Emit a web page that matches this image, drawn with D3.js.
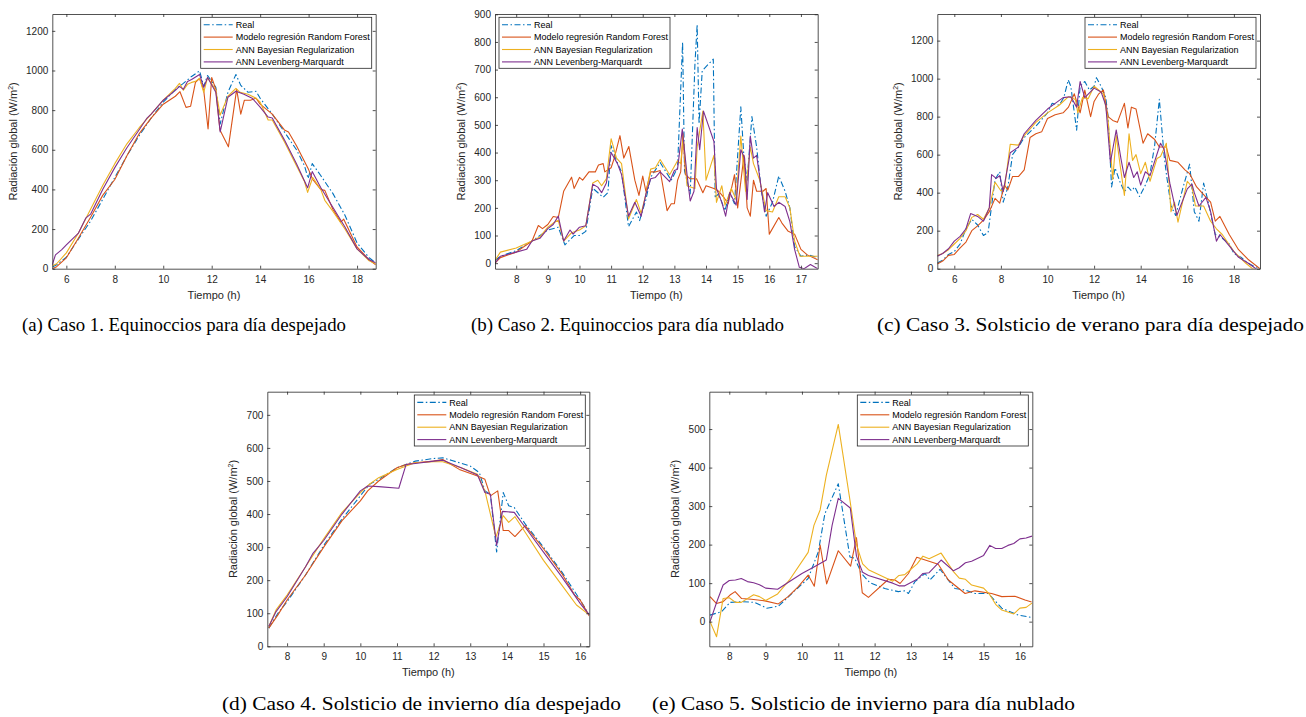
<!DOCTYPE html>
<html>
<head>
<meta charset="utf-8">
<script src="https://cdn.jsdelivr.net/npm/d3@7"></script>
<style>
  body { margin: 0; background: #fff; }
  svg text { font-family: "Liberation Sans", Arial, sans-serif; }
</style>
</head>
<body>
<div id="fig"></div>
<script>
const width = 1306;
const height = 717;

const seriesNames = ["Real", "Modelo regresión Random Forest", "ANN Bayesian Regularization", "ANN Levenberg-Marquardt"];
const seriesColors = ["#0072BD", "#D95319", "#EDB120", "#7E2F8E"];

const captions = [
  "(a)  Caso 1. Equinoccios para día despejado",
  "(b)  Caso 2. Equinoccios para día nublado",
  "(c)  Caso 3. Solsticio de verano para día despejado",
  "(d)  Caso 4. Solsticio de invierno día despejado",
  "(e)  Caso 5. Solsticio de invierno para día nublado"
];

// Caso 1 — [hora, W/m2]
const a_real = [[5.42,8],[5.6,20],[6,58],[6.5,150],[7,240],[7.5,350],[8,460],[8.5,570],[9,670],[9.5,760],[10,840],[10.5,905],[10.67,920],[10.83,935],[11.17,970],[11.5,998],[11.67,920],[11.83,975],[12.17,915],[12.35,730],[12.67,890],[13,980],[13.2,925],[13.5,890],[13.83,895],[14,860],[14.5,780],[15,690],[15.5,600],[15.83,520],[15.98,455],[16.15,530],[16.5,470],[17,380],[17.5,270],[18,130],[18.5,55],[18.77,30]];
const a_rf = [[5.42,0],[5.6,10],[6,55],[6.5,155],[7,260],[7.5,370],[8,450],[8.5,570],[9,680],[9.5,760],[10,830],[10.5,870],[10.69,893],[10.94,814],[11.13,820],[11.33,940],[11.5,960],[11.67,900],[11.85,705],[12,965],[12.17,905],[12.34,700],[12.69,615],[13.03,905],[13.2,780],[13.35,850],[13.6,850],[13.83,860],[14,830],[14.5,780],[15,700],[15.17,690],[15.5,620],[16,500],[16.17,450],[16.5,400],[16.67,395],[17,300],[17.33,235],[17.45,250],[18,110],[18.5,45],[18.77,20]];
const a_br = [[5.42,15],[5.6,25],[6,80],[6.5,180],[7,300],[7.5,420],[8,530],[8.5,630],[9,710],[9.5,780],[10,850],[10.5,910],[10.67,935],[10.83,900],[11,930],[11.17,940],[11.33,945],[11.5,960],[11.67,890],[11.83,965],[12.17,900],[12.35,775],[12.67,870],[13,910],[13.17,890],[13.5,880],[13.83,860],[14,840],[14.33,750],[14.5,750],[15,640],[15.5,520],[15.83,440],[15.96,385],[16.17,460],[16.5,400],[16.67,345],[17,290],[17.5,200],[18,100],[18.5,40],[18.77,25]];
const a_lm = [[5.42,20],[5.55,70],[5.8,95],[6,120],[6.5,180],[6.8,255],[7,275],[7.5,400],[8,510],[8.5,610],[9,700],[9.33,760],[9.5,780],[10,850],[10.5,900],[10.67,920],[10.83,905],[11,945],[11.17,955],[11.5,980],[11.67,915],[11.83,965],[12.17,890],[12.35,690],[12.67,865],[13,895],[13.33,880],[13.67,860],[14,815],[14.33,765],[14.5,760],[15,650],[15.5,530],[15.96,408],[16.15,490],[16.5,410],[17,310],[17.5,210],[18,100],[18.5,45],[18.77,30]];

// Caso 2
const b_real = [[7.33,10],[7.5,25],[8,45],[8.5,80],[9,120],[9.33,130],[9.54,66],[9.83,100],[10,100],[10.2,115],[10.42,271],[10.75,238],[10.9,255],[11,425],[11.17,370],[11.33,330],[11.55,132],[11.8,185],[11.9,154],[12.1,230],[12.25,310],[12.55,364],[12.9,300],[13.1,345],[13.26,799],[13.32,335],[13.5,250],[13.65,720],[13.72,863],[13.78,504],[13.88,696],[14.23,738],[14.29,240],[14.4,250],[14.6,190],[14.75,255],[14.9,215],[15.1,565],[15.2,380],[15.3,300],[15.45,530],[15.6,420],[15.75,260],[15.9,170],[16.1,220],[16.3,315],[16.5,260],[16.65,200],[16.8,60],[17,25],[17.25,30],[17.53,20]];
const b_rf = [[7.33,0],[7.5,20],[8,40],[8.5,80],[8.7,136],[8.83,125],[9,140],[9.17,169],[9.33,165],[9.5,260],[9.75,311],[9.83,270],[10,310],[10.1,300],[10.3,330],[10.5,330],[10.6,355],[10.75,360],[10.8,330],[11,345],[11.1,380],[11.28,461],[11.4,380],[11.56,422],[11.75,300],[11.88,245],[12,315],[12.1,260],[12.25,330],[12.4,330],[12.55,335],[12.77,190],[12.9,215],[13,215],[13.1,300],[13.2,330],[13.27,470],[13.35,320],[13.5,305],[13.7,305],[13.8,280],[13.9,255],[14,280],[14.25,270],[14.4,260],[14.55,240],[14.7,215],[14.9,320],[15,200],[15.2,390],[15.3,200],[15.4,170],[15.5,300],[15.6,260],[15.8,260],[15.9,270],[16,105],[16.3,165],[16.4,145],[16.6,115],[16.8,105],[17,50],[17.2,30],[17.53,12]];
const b_br = [[7.33,10],[7.5,40],[8,55],[8.5,80],[8.75,95],[9,130],[9.17,145],[9.33,155],[9.5,80],[9.75,110],[10,120],[10.2,135],[10.42,290],[10.58,300],[10.7,280],[10.85,305],[11,450],[11.17,380],[11.33,360],[11.55,160],[11.8,230],[11.95,180],[12.1,250],[12.25,340],[12.4,345],[12.55,375],[12.85,320],[13.1,370],[13.2,360],[13.28,460],[13.4,280],[13.65,270],[13.72,420],[13.9,550],[14,300],[14.25,390],[14.33,220],[14.5,280],[14.6,210],[14.8,270],[14.95,230],[15.1,460],[15.25,260],[15.4,420],[15.5,360],[15.7,300],[15.9,190],[16.1,185],[16.3,240],[16.5,240],[16.65,200],[16.8,80],[16.97,25],[17.2,25],[17.53,25]];
const b_lm = [[7.33,0],[7.5,25],[8,40],[8.33,50],[8.5,80],[8.75,90],[9,125],[9.17,140],[9.33,170],[9.5,80],[9.7,120],[9.8,105],[10,130],[10.2,135],[10.42,285],[10.58,275],[10.7,255],[10.85,290],[11,400],[11.2,360],[11.33,320],[11.55,170],[11.75,220],[11.95,170],[12.1,250],[12.25,305],[12.4,310],[12.55,330],[12.85,295],[13,335],[13.1,340],[13.25,485],[13.4,320],[13.5,225],[13.62,260],[13.72,490],[13.8,410],[13.92,550],[14.25,440],[14.33,270],[14.5,220],[14.62,170],[14.75,255],[14.95,210],[15.1,410],[15.22,380],[15.3,230],[15.4,460],[15.5,380],[15.6,390],[15.85,185],[15.95,255],[16.15,205],[16.3,220],[16.5,205],[16.65,150],[16.8,50],[16.95,-15],[17.1,-20],[17.3,-5],[17.53,-20]];

// Caso 3
const c_real = [[5.27,30],[5.5,45],[5.75,75],[6,90],[6.25,130],[6.5,210],[6.75,260],[7,230],[7.25,175],[7.45,190],[7.6,330],[7.75,470],[7.95,510],[8.1,350],[8.3,430],[8.5,600],[8.75,640],[9,690],[9.5,750],[10,820],[10.2,870],[10.5,860],[10.7,900],[10.89,993],[11,960],[11.25,729],[11.4,960],[11.6,985],[11.8,940],[12,960],[12.1,1005],[12.3,960],[12.5,900],[12.6,800],[12.75,430],[12.9,530],[13.1,460],[13.3,405],[13.45,430],[13.6,410],[13.75,430],[13.95,380],[14.2,440],[14.4,500],[14.6,650],[14.8,891],[15,600],[15.1,500],[15.3,330],[15.5,280],[15.8,420],[16.1,550],[16.3,300],[16.5,250],[16.7,450],[16.9,350],[17.2,180],[17.5,160],[17.8,130],[18,80],[18.3,60],[18.6,30],[18.9,10],[19.12,5]];
const c_rf = [[5.27,25],[5.5,40],[5.75,70],[6,75],[6.25,110],[6.5,140],[6.75,200],[7,225],[7.25,255],[7.5,300],[7.75,370],[7.95,345],[8.15,440],[8.3,415],[8.5,485],[8.75,485],[9,520],[9.25,690],[9.5,710],[9.75,720],[10,790],[10.33,810],[10.67,820],[10.9,850],[11.15,920],[11.4,820],[11.6,940],[11.85,800],[12,880],[12.2,920],[12.4,940],[12.6,800],[12.8,780],[13,770],[13.3,870],[13.45,740],[13.6,850],[13.8,840],[14.1,660],[14.3,710],[14.6,680],[14.8,640],[15.1,640],[15.25,570],[15.6,560],[15.9,520],[16.1,500],[16.4,430],[16.7,390],[17,350],[17.2,250],[17.4,275],[17.8,180],[18.2,100],[18.6,50],[19.12,0]];
const c_br = [[5.27,70],[5.5,80],[5.75,100],[6,130],[6.25,160],[6.5,200],[6.75,270],[7,285],[7.25,260],[7.5,320],[7.75,455],[8,410],[8.15,420],[8.4,655],[8.75,650],[9,700],[9.5,770],[10,820],[10.5,860],[10.9,905],[11.2,890],[11.3,820],[11.5,900],[11.75,895],[12,960],[12.4,920],[12.6,780],[12.8,470],[12.95,700],[13.1,560],[13.3,385],[13.5,710],[13.65,570],[13.8,600],[14,500],[14.2,560],[14.4,460],[14.7,580],[14.85,590],[15.1,660],[15.3,300],[15.45,350],[15.6,245],[16,460],[16.2,430],[16.35,330],[16.7,330],[17,250],[17.25,210],[17.5,180],[18,90],[18.5,30],[18.8,0],[19.12,-10]];
const c_lm = [[5.27,65],[5.5,80],[5.75,105],[6,145],[6.25,170],[6.5,210],[6.7,290],[7,275],[7.25,250],[7.5,320],[7.6,495],[7.8,475],[7.95,490],[8.1,405],[8.4,610],[8.75,640],[9,710],[9.5,780],[10,840],[10.33,870],[10.67,900],[11,905],[11.25,850],[11.4,985],[11.6,900],[12,950],[12.3,930],[12.5,860],[12.7,560],[12.95,730],[13.15,580],[13.3,480],[13.5,560],[13.7,480],[13.85,510],[14,440],[14.2,510],[14.4,490],[14.85,660],[15,630],[15.25,450],[15.55,280],[16,420],[16.2,445],[16.3,400],[16.5,330],[16.8,375],[17,300],[17.25,145],[17.4,180],[17.8,120],[18.2,60],[18.6,30],[19.12,-15]];

// Caso 4
const d_real = [[7.5,55],[7.75,100],[8,135],[8.5,215],[9,305],[9.5,385],[10,455],[10.25,490],[10.5,505],[11,540],[11.5,560],[12,568],[12.25,570],[12.5,562],[13,545],[13.25,525],[13.4,470],[13.55,460],[13.72,285],[13.9,465],[14.05,425],[14.2,420],[14.5,370],[15,300],[15.5,225],[16,140],[16.25,95]];
const d_rf = [[7.5,55],[7.75,95],[8,140],[8.5,215],[9,300],[9.5,380],[10,440],[10.2,470],[10.5,500],[11,540],[11.25,550],[11.5,555],[12,560],[12.25,565],[12.7,535],[13.2,515],[13.4,505],[13.55,455],[13.75,470],[13.9,350],[14.05,350],[14.22,332],[14.5,365],[15,295],[15.5,220],[15.85,155],[16,140],[16.25,92]];
const d_br = [[7.5,60],[7.7,110],[8,155],[8.5,240],[9,325],[9.5,405],[10,465],[10.25,490],[10.5,510],[11,535],[11.25,545],[11.5,555],[12,558],[12.25,558],[12.75,540],[13.2,520],[13.4,470],[13.7,330],[13.9,395],[14.05,375],[14.22,392],[14.5,345],[15,260],[15.5,185],[15.9,125],[16.25,95]];
const d_lm = [[7.5,60],[7.7,105],[8,150],[8.5,240],[8.7,280],[9,320],[9.5,400],[10,470],[10.2,485],[10.5,483],[11.05,478],[11.25,550],[11.5,553],[12,560],[12.25,563],[12.75,540],[13.2,518],[13.4,465],[13.55,460],[13.72,305],[13.88,408],[14.2,405],[14.5,360],[15,285],[15.5,210],[16,130],[16.25,95]];

// Caso 5
const e_real = [[7.47,17],[7.79,26],[8.02,50],[8.34,52],[8.7,50],[9.03,35],[9.35,40],[9.72,73],[10.17,112],[10.45,181],[10.63,280],[11,358],[11.32,168],[11.45,165],[11.64,125],[11.87,101],[12.28,86],[12.65,78],[12.83,80],[12.93,73],[13.11,104],[13.39,125],[13.52,108],[13.8,136],[14.21,86],[14.49,82],[14.76,73],[15.13,73],[15.5,35],[15.95,17],[16.32,11]];
const e_rf = [[7.47,65],[7.65,47],[7.83,52],[8.02,69],[8.16,78],[8.34,60],[8.61,58],[8.98,54],[9.35,46],[9.62,65],[9.9,91],[10.17,121],[10.34,92],[10.5,199],[10.68,98],[11,184],[11.34,144],[11.5,218],[11.66,75],[11.83,63],[12.38,110],[12.56,108],[12.7,99],[12.93,125],[13.16,167],[13.75,149],[14.03,108],[14.49,73],[14.76,80],[15.22,73],[15.5,65],[15.86,66],[16.14,56],[16.32,51]];
const e_br = [[7.47,0],[7.65,-39],[7.83,60],[8,62],[8.17,50],[8.33,50],[8.67,70],[8.83,65],[9,55],[9.33,72],[9.67,110],[10.17,180],[10.33,250],[10.5,290],[10.67,380],[11,512],[11.33,310],[11.5,200],[11.67,150],[11.83,135],[12.5,105],[12.67,120],[12.83,122],[13.17,150],[13.33,170],[13.5,163],[13.83,178],[14.17,130],[14.33,113],[14.5,110],[14.67,95],[15,87],[15.17,70],[15.33,45],[15.5,30],[15.83,20],[16,35],[16.17,37],[16.33,48]];
const e_lm = [[7.47,0],[7.67,55],[7.83,95],[8,107],[8.17,108],[8.33,112],[8.5,104],[8.67,101],[8.83,96],[9,87],[9.33,84],[9.67,105],[10,125],[10.33,142],[10.67,160],[10.83,250],[11,320],[11.33,295],[11.5,170],[11.67,128],[11.83,120],[12.5,100],[12.67,93],[12.83,93],[13.17,110],[13.33,125],[13.5,127],[13.83,160],[14.17,132],[14.33,140],[14.5,153],[14.67,157],[15,172],[15.17,198],[15.33,190],[15.5,190],[15.67,198],[15.83,203],[16,215],[16.17,217],[16.33,222]];

const xTicksA = [6, 8, 10, 12, 14, 16, 18];
const yTicksA = [0, 200, 400, 600, 800, 1000, 1200];
const xTicksB = [8, 9, 10, 11, 12, 13, 14, 15, 16, 17];
const yTicksB = [0, 100, 200, 300, 400, 500, 600, 700, 800, 900];
const xTicksD = [8, 9, 10, 11, 12, 13, 14, 15, 16];
const yTicksD = [0, 100, 200, 300, 400, 500, 600, 700];
const yTicksE = [0, 100, 200, 300, 400, 500];

// cap: [inicio, fin, línea base] del pie de cada subfigura
const panels = [
  { key: "a", box: [52.3, 14, 375.7, 268.7], xDom: [5.42, 18.77], yDom: [0, 1285], xT: xTicksA, yT: yTicksA, legend: "right", labelOff: 35, series: [a_real, a_rf, a_br, a_lm], cap: [22, 346, 331] },
  { key: "b", box: [495, 14, 817.7, 268.7], xDom: [7.33, 17.53], yDom: [-20, 901], xT: xTicksB, yT: yTicksB, legend: "left", labelOff: 30, series: [b_real, b_rf, b_br, b_lm], cap: [471, 784, 331] },
  { key: "c", box: [937.3, 14, 1260, 268.7], xDom: [5.27, 19.12], yDom: [0, 1340], xT: xTicksA, yT: yTicksA, legend: "right", labelOff: 35, series: [c_real, c_rf, c_br, c_lm], cap: [877, 1304, 331] },
  { key: "d", box: [267.3, 391.7, 589.3, 646.3], xDom: [7.46, 16.25], yDom: [0, 770], xT: xTicksD, yT: yTicksD, legend: "right", labelOff: 30, series: [d_real, d_rf, d_br, d_lm], cap: [222, 621, 710] },
  { key: "e", box: [709.3, 391.7, 1032.3, 646.3], xDom: [7.45, 16.34], yDom: [-64, 597], xT: xTicksD, yT: yTicksE, legend: "right", labelOff: 30, series: [e_real, e_rf, e_br, e_lm], cap: [652, 1075, 710] }
];

const svg = d3.select("#fig")
  .append("svg")
  .attr("width", width)
  .attr("height", height)
  .attr("viewBox", `0 0 ${width} ${height}`);

const axisColor = "#262626";
const dashReal = "6,2.5,1.5,2.5";

function styleAxis(sel) {
  sel.attr("font-family", '"Liberation Sans", Arial, sans-serif').attr("font-size", 10);
  sel.selectAll("path.domain").attr("stroke", axisColor).attr("stroke-width", 0.8);
  sel.selectAll(".tick line").attr("stroke", axisColor).attr("stroke-width", 0.8);
  sel.selectAll(".tick text").attr("fill", axisColor);
}

function drawPanel(p, idx) {
  const [left, top, right, bottom] = p.box;
  const x = d3.scaleLinear().domain(p.xDom).range([left, right]);
  const y = d3.scaleLinear().domain(p.yDom).range([bottom, top]);
  const g = svg.append("g");

  g.append("clipPath").attr("id", "clip-" + p.key)
    .append("rect").attr("x", left).attr("y", top)
    .attr("width", right - left).attr("height", bottom - top);

  // curvas
  const line = d3.line().x(d => x(d[0])).y(d => y(d[1]));
  const lines = g.append("g").attr("clip-path", `url(#clip-${p.key})`);
  p.series.forEach((s, i) => {
    lines.append("path")
      .datum(s)
      .attr("d", line)
      .attr("fill", "none")
      .attr("stroke", seriesColors[i])
      .attr("stroke-width", 1.1)
      .attr("stroke-linejoin", "round")
      .attr("stroke-dasharray", i === 0 ? dashReal : null);
  });

  // ejes tipo MATLAB: caja con ticks hacia dentro
  g.append("g").attr("transform", `translate(0,${bottom})`)
    .call(d3.axisBottom(x).tickValues(p.xT).tickSizeInner(-3).tickSizeOuter(0).tickPadding(7).tickFormat(d3.format("d")))
    .call(styleAxis);
  g.append("g").attr("transform", `translate(0,${top})`)
    .call(d3.axisTop(x).tickValues(p.xT).tickSizeInner(-3).tickSizeOuter(0).tickFormat(""))
    .call(styleAxis);
  g.append("g").attr("transform", `translate(${left},0)`)
    .call(d3.axisLeft(y).tickValues(p.yT).tickSizeInner(-3).tickSizeOuter(0).tickPadding(4).tickFormat(d3.format("d")))
    .call(styleAxis);
  g.append("g").attr("transform", `translate(${right},0)`)
    .call(d3.axisRight(y).tickValues(p.yT).tickSizeInner(-3).tickSizeOuter(0).tickFormat(""))
    .call(styleAxis);

  // etiquetas
  g.append("text")
    .attr("x", (left + right) / 2).attr("y", bottom + 30)
    .attr("text-anchor", "middle").attr("font-size", 11).attr("fill", axisColor)
    .text("Tiempo (h)");
  const yl = g.append("text")
    .attr("transform", `translate(${left - p.labelOff},${(top + bottom) / 2}) rotate(-90)`)
    .attr("text-anchor", "middle").attr("font-size", 11).attr("fill", axisColor);
  yl.append("tspan").text("Radiación global (W/m");
  yl.append("tspan").attr("font-size", 7).attr("dy", -4).text("2");
  yl.append("tspan").attr("dy", 4).text(")");

  // leyenda
  const lw = 171, lh = 51;
  const lx = p.legend === "right" ? right - 4 - lw : left + 4;
  const ly = top + 3.3;
  const lg = g.append("g").attr("transform", `translate(${lx},${ly})`);
  lg.append("rect").attr("width", lw).attr("height", lh)
    .attr("fill", "#fff").attr("stroke", axisColor).attr("stroke-width", 0.8);
  seriesNames.forEach((name, i) => {
    const yy = 7.4 + i * 12.4;
    lg.append("line").attr("x1", 3).attr("x2", 32).attr("y1", yy).attr("y2", yy)
      .attr("stroke", seriesColors[i]).attr("stroke-width", 1.1)
      .attr("stroke-dasharray", i === 0 ? dashReal : null);
    lg.append("text").attr("x", 35).attr("y", yy).attr("dy", "0.35em")
      .attr("font-size", 9).attr("fill", "#000").text(name);
  });

  // pie de figura
  svg.append("text")
    .attr("x", p.cap[0]).attr("y", p.cap[2])
    .attr("textLength", p.cap[1] - p.cap[0])
    .attr("lengthAdjust", "spacingAndGlyphs")
    .style("font-family", '"Liberation Serif", "Times New Roman", serif')
    .attr("font-size", 18.5).attr("fill", "#000")
    .text(captions[idx]);
}

panels.forEach(drawPanel);
</script>
</body>
</html>
